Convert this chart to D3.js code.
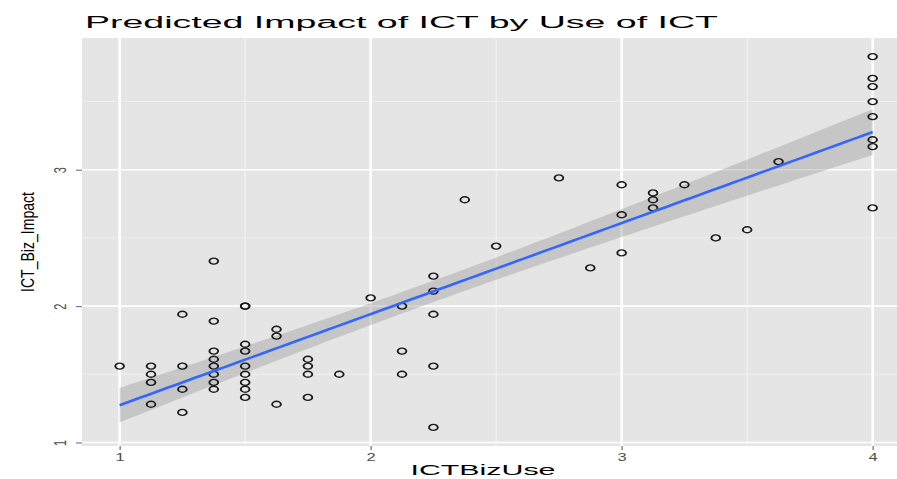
<!DOCTYPE html>
<html>
<head>
<meta charset="utf-8">
<script src="https://cdn.jsdelivr.net/npm/d3@7"></script>
<style>
  html, body { margin: 0; padding: 0; background: #ffffff; }
  svg { display: block; }
  text { font-family: "Liberation Sans", Arial, Helvetica, sans-serif; }
</style>
</head>
<body>
<svg id="chart" width="897" height="479"></svg>
<script>
// ICT business use (x) and its predicted impact (y), one entry per respondent
const bizUse = [
  1,
  1.125, 1.125, 1.125, 1.125,
  1.25, 1.25, 1.25, 1.25,
  1.375, 1.375, 1.375, 1.375, 1.375, 1.375, 1.375, 1.375,
  1.5, 1.5, 1.5, 1.5, 1.5, 1.5, 1.5, 1.5, 1.5,
  1.625, 1.625, 1.625,
  1.75, 1.75, 1.75, 1.75,
  1.875,
  2,
  2.125, 2.125, 2.125,
  2.25, 2.25, 2.25, 2.25, 2.25,
  2.375,
  2.5,
  2.75,
  2.875,
  3, 3, 3,
  3.125, 3.125, 3.125,
  3.25,
  3.375,
  3.5,
  3.625,
  4, 4, 4, 4, 4, 4, 4, 4
];
const bizImpact = [
  1.56,
  1.56, 1.50, 1.44, 1.28,
  1.94, 1.56, 1.39, 1.22,
  2.33, 1.89, 1.67, 1.61, 1.56, 1.50, 1.44, 1.39,
  2.00, 2.00, 1.72, 1.67, 1.56, 1.50, 1.44, 1.39, 1.33,
  1.83, 1.78, 1.28,
  1.61, 1.56, 1.50, 1.33,
  1.50,
  2.06,
  2.00, 1.67, 1.50,
  2.22, 2.11, 1.94, 1.56, 1.11,
  2.78,
  2.44,
  2.94,
  2.28,
  2.89, 2.67, 2.39,
  2.83, 2.78, 2.72,
  2.89,
  2.50,
  2.56,
  3.06,
  3.83, 3.67, 3.61, 3.50, 3.39, 3.22, 3.17, 2.72
];
const xTicks = [1, 2, 3, 4];
const yTicks = [1, 2, 3];
const xMinor = [1.5, 2.5, 3.5];
const yMinor = [1.5, 2.5, 3.5];

const titleText = "Predicted Impact of ICT  by Use of ICT";
const xTitle = "ICTBizUse";
const yTitle = "ICT_Biz_Impact";

const svg = d3.select("#chart");
const panel = { left: 82, top: 38, bottom: 446 };
const unitX = 251;   // pixels per unit of ICTBizUse

// scales with 5% expansion around the data range
const xExt = d3.extent(bizUse), yExt = d3.extent(bizImpact);
const xPad = (xExt[1] - xExt[0]) * 0.05, yPad = (yExt[1] - yExt[0]) * 0.05;
const xDom = [xExt[0] - xPad, xExt[1] + xPad];
const yDom = [yExt[0] - yPad, yExt[1] + yPad];
const x = d3.scaleLinear().domain(xDom)
  .range([panel.left, panel.left + (xDom[1] - xDom[0]) * unitX]);
const y = d3.scaleLinear().domain(yDom).range([panel.bottom, panel.top]);
const panelRight = x(xDom[1]);

// panel background
svg.append("rect")
  .attr("x", panel.left).attr("y", panel.top)
  .attr("width", panelRight - panel.left).attr("height", panel.bottom - panel.top)
  .attr("fill", "#e5e5e5");

const grid = svg.append("g");
grid.selectAll(".vminor").data(xMinor).join("line")
  .attr("x1", d => x(d)).attr("x2", d => x(d))
  .attr("y1", panel.top).attr("y2", panel.bottom)
  .attr("stroke", "#f2f2f2").attr("stroke-width", 1.3);
grid.selectAll(".hminor").data(yMinor).join("line")
  .attr("x1", panel.left).attr("x2", panelRight)
  .attr("y1", d => y(d)).attr("y2", d => y(d))
  .attr("stroke", "#f2f2f2").attr("stroke-width", 0.8);
grid.selectAll(".vmajor").data(xTicks).join("line")
  .attr("x1", d => x(d)).attr("x2", d => x(d))
  .attr("y1", panel.top).attr("y2", panel.bottom)
  .attr("stroke", "#ffffff").attr("stroke-width", 2.6);
grid.selectAll(".hmajor").data(yTicks).join("line")
  .attr("x1", panel.left).attr("x2", panelRight)
  .attr("y1", d => y(d)).attr("y2", d => y(d))
  .attr("stroke", "#ffffff").attr("stroke-width", 1.6);

// least-squares fit with 95% confidence band
const n = bizUse.length;
const mx = d3.mean(bizUse), my = d3.mean(bizImpact);
let sxx = 0, sxy = 0;
for (let i = 0; i < n; i++) {
  sxx += (bizUse[i] - mx) ** 2;
  sxy += (bizUse[i] - mx) * (bizImpact[i] - my);
}
const slope = sxy / sxx, intercept = my - slope * mx;
let sse = 0;
for (let i = 0; i < n; i++) sse += (bizImpact[i] - (intercept + slope * bizUse[i])) ** 2;
const sigma = Math.sqrt(sse / (n - 2));
const tq = 1.96 + 2.4 / (n - 2);
const fitX = d3.range(0, 81).map(i => xExt[0] + (xExt[1] - xExt[0]) * i / 80);
const fit = fitX.map(v => {
  const f = intercept + slope * v;
  const se = sigma * Math.sqrt(1 / n + (v - mx) ** 2 / sxx);
  return { v, f, lo: f - tq * se, hi: f + tq * se };
});

svg.append("path").datum(fit)
  .attr("d", d3.area().x(d => x(d.v)).y0(d => y(d.lo)).y1(d => y(d.hi)))
  .attr("fill", "#999999").attr("fill-opacity", 0.4);

// respondents as open circles
svg.append("g").selectAll("circle").data(d3.range(n)).join("circle")
  .attr("transform", i => `translate(${x(bizUse[i])},${y(bizImpact[i])}) scale(1.45,1)`)
  .attr("r", 3)
  .attr("fill", "none").attr("stroke", "#1a1a1a").attr("stroke-width", 1.3);

svg.append("path").datum(fit)
  .attr("d", d3.line().x(d => x(d.v)).y(d => y(d.f)))
  .attr("fill", "none").attr("stroke", "#3366ff").attr("stroke-width", 2.6);

// axes
const xAxis = svg.append("g").attr("transform", `translate(0,${panel.bottom})`)
  .call(d3.axisBottom(x).tickValues(xTicks).tickSize(4).tickPadding(3).tickFormat(d3.format("d")));
xAxis.select(".domain").remove();
xAxis.selectAll(".tick line").attr("stroke", "#7f7f7f").attr("stroke-width", 1.4);
xAxis.selectAll(".tick text").attr("fill", "#4d4d4d").attr("font-size", 11)
  .attr("transform", "scale(1.5,1)")
  .attr("x", 0)
  .each(function () {
    const t = d3.select(this.parentNode).attr("transform");
    const tx = +t.match(/translate\(([-\d.]+)/)[1];
    d3.select(this.parentNode).attr("transform", `translate(${tx},0)`);
  });

const yAxis = svg.append("g").attr("transform", `translate(${panel.left},0)`)
  .call(d3.axisLeft(y).tickValues(yTicks).tickSize(6).tickFormat(d3.format("d")));
yAxis.select(".domain").remove();
yAxis.selectAll(".tick line").attr("stroke", "#7f7f7f").attr("stroke-width", 1.2);
yAxis.selectAll(".tick text").attr("fill", "#4d4d4d").attr("font-size", 11)
  .attr("x", null).attr("dy", null)
  .attr("text-anchor", "middle").attr("dominant-baseline", "central")
  .attr("transform", "translate(-22,0) scale(1.5,1) rotate(-90)");

// titles
svg.append("text")
  .attr("x", 85).attr("y", 28)
  .attr("font-size", 16).attr("fill", "#000")
  .attr("textLength", 633).attr("lengthAdjust", "spacingAndGlyphs")
  .text(titleText);

svg.append("text")
  .attr("x", 483).attr("y", 475)
  .attr("text-anchor", "middle")
  .attr("font-size", 14).attr("fill", "#000")
  .attr("textLength", 145).attr("lengthAdjust", "spacingAndGlyphs")
  .text(xTitle);

svg.append("text")
  .attr("transform", `translate(34,${(panel.top + panel.bottom) / 2}) scale(1.4,1) rotate(-90)`)
  .attr("text-anchor", "middle")
  .attr("font-size", 13).attr("fill", "#000")
  .attr("textLength", 100).attr("lengthAdjust", "spacingAndGlyphs")
  .text(yTitle);
</script>
</body>
</html>
